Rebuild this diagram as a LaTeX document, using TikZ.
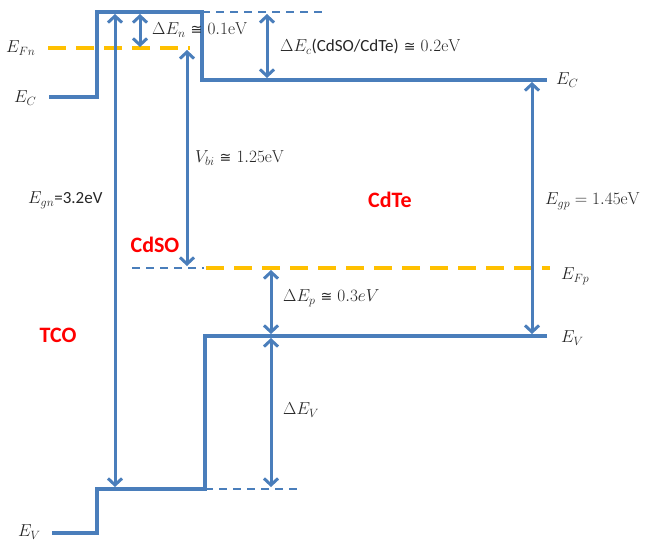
\documentclass[tikz,border=0pt]{standalone}
\usepackage[no-math]{fontspec}
\setmainfont{Carlito}
\newfontfamily\symfont{DejaVu Sans}
\usetikzlibrary{arrows.meta}
\definecolor{bandblue}{RGB}{74,126,187}
\definecolor{fermiorange}{RGB}{255,192,0}
\definecolor{lblgray}{RGB}{38,38,38}
\DeclareMathSizes{17}{17}{13}{10}
\newcommand{\approxeq}{\hspace{0.3em}{\symfont\fontsize{14}{17}\selectfont ≅}\hspace{0.3em}}
\begin{document}
\begin{tikzpicture}[x=1pt,y=-1pt,
  band/.style={bandblue, line width=4.3pt, line join=miter},
  fermi/.style={fermiorange, line width=4pt, dash pattern=on 18pt off 10pt},
  guide/.style={bandblue, line width=1.5pt, dash pattern=on 8pt off 6pt},
  tipb/.tip={Straight Barb[length=6.5pt,width=14pt,line width=3pt]},
  dim/.style={bandblue, line width=3pt, tipb-tipb},
  lab/.style={text=lblgray, font=\fontsize{17}{20}\selectfont, inner sep=0pt},
  mat/.style={text=red, font=\fontsize{22}{26}\selectfont\bfseries, inner sep=0pt}]
\useasboundingbox (0,0) rectangle (652,541);
% key coordinates
\coordinate (cb0) at (49,97);
\coordinate (cb1) at (97,97);
\coordinate (cb2) at (97,12);
\coordinate (cb3) at (202,12);
\coordinate (cb4) at (202,80);
\coordinate (cb5) at (547,80);
\coordinate (vb0) at (547,336);
\coordinate (vb1) at (205,336);
\coordinate (vb2) at (205,489);
\coordinate (vb3) at (97,489);
\coordinate (vb4) at (97,533);
\coordinate (vb5) at (52,533);
% guides
\coordinate (g1a) at (202,12);  \coordinate (g1b) at (325,12);
\coordinate (g2a) at (132,268); \coordinate (g2b) at (204,268);
\coordinate (g3a) at (205,489); \coordinate (g3b) at (297,489);
\draw[guide] (g1a) -- (g1b);
\draw[guide] (g2a) -- (g2b);
\draw[guide] (g3a) -- (g3b);
% Fermi levels
\coordinate (fn0) at (48,48);  \coordinate (fn1) at (190,48);
\coordinate (fp0) at (206,268); \coordinate (fp1) at (550,268);
\draw[fermi] (fn0) -- (fn1);
\draw[fermi] (fp0) -- (fp1);
% bands
\draw[band] (cb0) -- (cb1) -- (cb2) -- (cb3) -- (cb4) -- (cb5);
\draw[band] (vb0) -- (vb1) -- (vb2) -- (vb3) -- (vb4) -- (vb5);
% dimension arrows
\coordinate (dn0) at (140,14);  \coordinate (dn1) at (140,47);
\coordinate (dc0) at (267,14);  \coordinate (dc1) at (267,78);
\coordinate (eg0) at (115,14);  \coordinate (eg1) at (115,487);
\coordinate (vb0a) at (187,50); \coordinate (vb1a) at (187,266);
\coordinate (dp0) at (271,270); \coordinate (dp1) at (271,334);
\coordinate (dv0) at (271,338); \coordinate (dv1) at (271,487);
\coordinate (gp0) at (532,82);  \coordinate (gp1) at (532,334);
\draw[dim] (dn0) -- (dn1);
\draw[dim] (dc0) -- (dc1);
\draw[dim] (eg0) -- (eg1);
\draw[dim] (vb0a) -- (vb1a);
\draw[dim] (dp0) -- (dp1);
\draw[dim] (dv0) -- (dv1);
\draw[dim] (gp0) -- (gp1);
% labels
\node[lab, anchor=west] (lEFn) at (6,48) {$E_{Fn}$};
\node[lab, anchor=west] (lECl) at (14,98) {$E_C$};
\node[lab, anchor=west] (lEVl) at (18,532) {$E_V$};
\node[lab, anchor=west] (lECr) at (556,80) {$E_C$};
\node[lab, anchor=west] (lEFp) at (561,276) {$E_{Fp}$};
\node[lab, anchor=west] (lEVr) at (561,338) {$E_V$};
\node[lab, anchor=west] (ldn) at (152,30) {$\Delta E_n$\approxeq$0.1\mathrm{eV}$};
\node[lab, anchor=west] (ldc) at (280,47) {$\Delta E_c$(CdSO/CdTe)\approxeq$0.2\mathrm{eV}$};
\node[lab, anchor=west] (legn) at (28,200) {$E_{gn}$=3.2eV};
\node[lab, anchor=west] (lvbi) at (195,158) {$V_{bi}$\approxeq$1.25\mathrm{eV}$};
\node[lab, anchor=west] (ldp) at (283,298) {$\Delta E_p$\approxeq$0.3eV$};
\node[lab, anchor=west] (ldv) at (283,410) {$\Delta E_V$};
\node[lab, anchor=west] (legp) at (545,201) {$E_{gp}=1.45\mathrm{eV}$};
\node[mat] (tco) at (58,335) {TCO};
\node[mat] (cdso) at (155,245) {CdSO};
\node[mat] (cdte) at (390,200) {CdTe};
\end{tikzpicture}
\end{document}
